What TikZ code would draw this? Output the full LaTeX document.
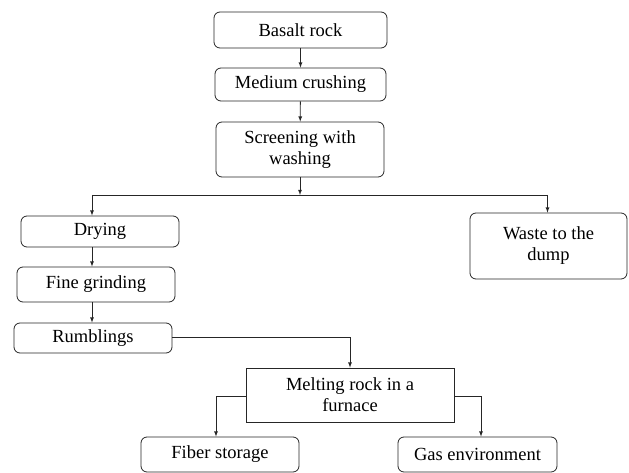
\documentclass[tikz,border=0pt]{standalone}
\usepackage{fontspec}
\setmainfont{Liberation Serif}
\usepackage{tikz}
\usetikzlibrary{arrows,calc,positioning}

\begin{document}
\begin{tikzpicture}[x=1pt,y=-1pt,
		stagebox/.style={draw=black!85,line width=0.8pt,rounded corners=6pt,inner sep=0pt,align=center,
			font=\fontsize{18.5}{21}\selectfont},
		furnacebox/.style={stagebox,rounded corners=0pt},
		flow/.style={draw=black!85,line width=0.8pt,-latex}]
					\useasboundingbox (0,0) rectangle (629,473);

					% process chain
					\node[stagebox,minimum width=173,minimum height=36] (basalt) at (300.5,30) {Basalt rock};
					\node[stagebox,minimum width=171,minimum height=33] (medium) at (300.5,84.5) {Medium crushing};
					\node[stagebox,minimum width=168,minimum height=55] (screen) at (300,149.5) {Screening with\\washing};
					\node[stagebox,minimum width=158,minimum height=31] (drying) at (100,231.5) {Drying};
					\node[stagebox,minimum width=157,minimum height=66] (waste) at (548.5,246) {Waste to the\\dump};
					\node[stagebox,minimum width=158,minimum height=35] (fine) at (96,284.5) {Fine grinding};
					\node[stagebox,minimum width=158,minimum height=30] (rumble) at (93,338) {Rumblings};
					\node[furnacebox,minimum width=208,minimum height=54] (melt) at (350,395) {Melting rock in a\\furnace};
					\node[stagebox,minimum width=158,minimum height=35] (fiber) at (220,454.5) {Fiber storage};
					\node[stagebox,minimum width=159,minimum height=35] (gas) at (477.5,454.5) {Gas environment};

					\coordinate (split) at (300,195);
					\coordinate (leftdrop) at (92,195);
					\coordinate (rightdrop) at (547.5,195);
					\coordinate (meltin) at (350,337);
					\coordinate (fiberturn) at (216,396);
					\coordinate (gasturn) at (481,396);

					\draw[flow] (basalt) -- (medium);
					\draw[flow] (medium) -- (screen);
					\draw[flow] (screen) -- (split);
					\draw[draw=black!85,line width=0.8pt] (leftdrop) -- (rightdrop);
					\draw[flow] (leftdrop) -- (leftdrop |- drying.north);
					\draw[flow] (rightdrop) -- (rightdrop |- waste.north);
					\draw[flow] (leftdrop |- drying.south) -- (leftdrop |- fine.north);
					\draw[flow] (leftdrop |- fine.south) -- (leftdrop |- rumble.north);
					\draw[flow] (rumble.east |- meltin) -- (meltin) -- (melt.north);
					\draw[flow] (melt.west |- fiberturn) -- (fiberturn) -- (fiberturn |- fiber.north);
					\draw[flow] (melt.east |- gasturn) -- (gasturn) -- (gasturn |- gas.north);
				\end{tikzpicture}
\end{document}
